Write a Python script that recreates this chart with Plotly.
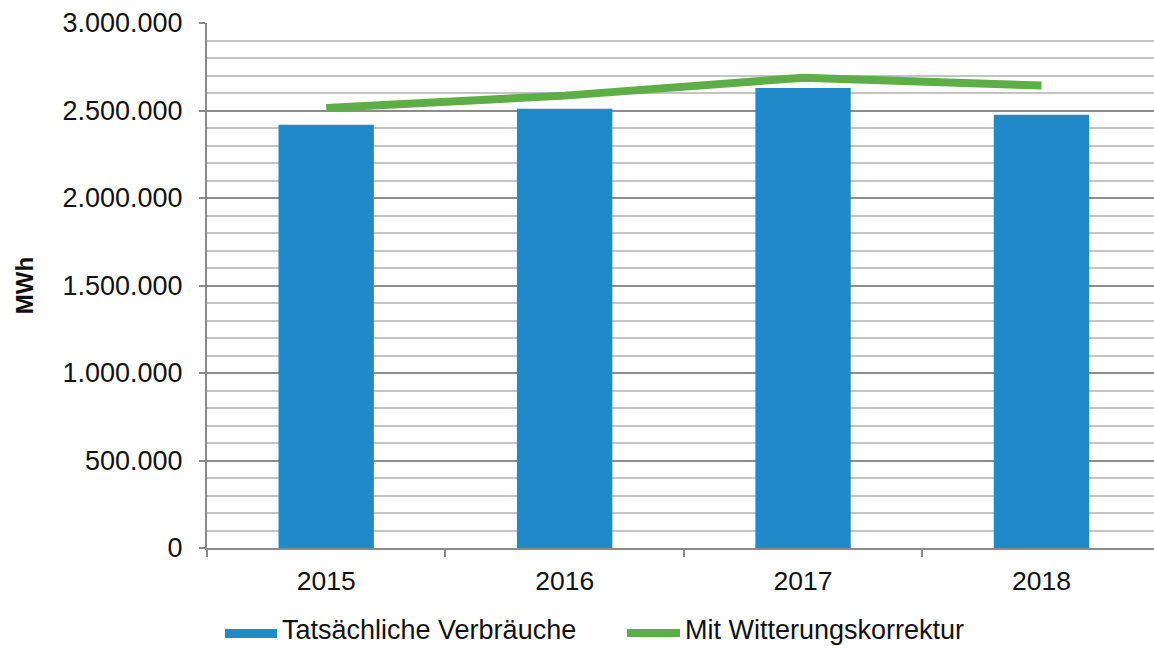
import plotly.graph_objects as go

years = ["2015", "2016", "2017", "2018"]
actual = [2419000, 2510000, 2628000, 2476000]
corrected = [2514000, 2585000, 2687000, 2643000]
y_ticks = [0, 500000, 1000000, 1500000, 2000000, 2500000, 3000000]
series_names = ["Tatsächliche Verbräuche", "Mit Witterungskorrektur"]

FONT = "Liberation Sans, Arial, sans-serif"
BLUE = "#1E8ACA"
GREEN = "#5EAE47"

fig = go.Figure()
fig.add_trace(go.Bar(
    x=years, y=actual, name=series_names[0],
    marker=dict(color=BLUE, line=dict(width=0)), width=0.4,
    showlegend=False,
))
fig.add_trace(go.Scatter(
    x=years, y=corrected, name=series_names[1], mode="lines",
    line=dict(color=GREEN, width=8), showlegend=False,
))

# custom legend (paper coordinates of the plot area: x 207..1154, y 548..23)
L, W, B, H = 207, 947, 548, 525
def px(x):
    return (x - L) / W
def py(y):
    return (B - y) / H

fig.add_shape(type="rect", xref="paper", yref="paper",
              x0=px(225), x1=px(277), y0=py(638), y1=py(629),
              fillcolor=BLUE, line=dict(width=0))
fig.add_shape(type="line", xref="paper", yref="paper",
              x0=px(627), x1=px(680), y0=py(633), y1=py(633),
              line=dict(color=GREEN, width=8))
fig.add_annotation(xref="paper", yref="paper", x=px(281), y=py(646),
                   xanchor="left", yanchor="bottom", showarrow=False,
                   text=series_names[0], font=dict(size=27), borderpad=0)
fig.add_annotation(xref="paper", yref="paper", x=px(684), y=py(646),
                   xanchor="left", yanchor="bottom", showarrow=False,
                   text=series_names[1], font=dict(size=27), borderpad=0)

fig.update_layout(
    width=1154, height=646,
    margin=dict(l=207, r=0, t=23, b=98, pad=0),
    paper_bgcolor="white", plot_bgcolor="white",
    separators=",.",
    font=dict(family=FONT, size=26, color="#111111"),
    showlegend=False,
)
fig.update_xaxes(
    type="category", range=[-0.5, 3.472], automargin=False,
    showline=True, linecolor="#8a8a8a", linewidth=2,
    ticks="outside", tickson="boundaries", ticklen=7, tickcolor="#8a8a8a", tickwidth=2,
    showgrid=False, tickfont=dict(size=26.5), ticklabelstandoff=8,
)
fig.update_yaxes(
    range=[0, 3000000], tickvals=y_ticks, tickformat=",d", automargin=False,
    showline=True, linecolor="#8a8a8a", linewidth=2,
    ticks="outside", ticklen=6, tickcolor="#8a8a8a", tickwidth=2,
    showgrid=True, gridcolor="#8c8c8c", gridwidth=1.5,
    minor=dict(dtick=100000, showgrid=True, gridcolor="#c4c4c4", gridwidth=1.5, ticks=""),
    zeroline=False, tickfont=dict(size=27), ticklabelstandoff=11,
    title=dict(text="<b>MWh</b>", font=dict(size=24), standoff=22),
)

fig.write_html(
    "out.html",
    config={"displayModeBar": False},
    post_script="document.body.style.margin='0';document.body.style.overflow='hidden';",
)
